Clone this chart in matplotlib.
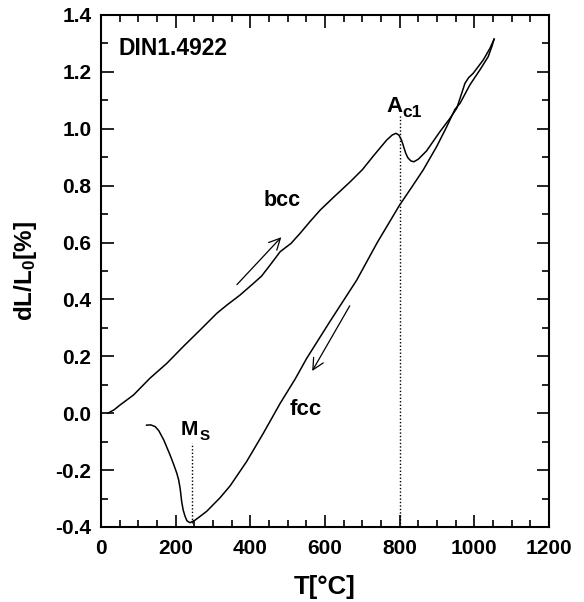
import matplotlib
matplotlib.use('Agg')
import matplotlib.pyplot as plt
from matplotlib.ticker import MultipleLocator

plt.rcParams['font.family'] = ['Liberation Sans', 'DejaVu Sans']
plt.rcParams['font.weight'] = 'bold'
plt.rcParams['mathtext.default'] = 'regular'

# heating curve (bcc -> fcc)
heat_T = [18, 35, 51, 87, 131, 176, 220, 265, 310, 337, 372, 407, 430, 453,
          480, 509, 533, 560, 587, 622, 645, 667, 700, 730, 765, 780, 790,
          798, 805, 810, 816, 822, 830, 838, 850, 872, 908, 935, 953, 965,
          975, 985, 997, 1024, 1042, 1053]
heat_dl = [0.0, 0.012, 0.029, 0.064, 0.123, 0.175, 0.234, 0.292, 0.351, 0.38,
           0.415, 0.455, 0.482, 0.521, 0.568, 0.597, 0.632, 0.674, 0.714,
           0.758, 0.786, 0.813, 0.856, 0.905, 0.96, 0.978, 0.984, 0.978, 0.96,
           0.94, 0.915, 0.898, 0.887, 0.884, 0.893, 0.922, 0.99, 1.037, 1.072,
           1.12, 1.16, 1.18, 1.195, 1.242, 1.283, 1.315]

# cooling curve (fcc -> martensite)
cool_T = [1053, 1047, 1037, 1015, 988, 962, 948, 926, 899, 863, 830, 800,
          740, 685, 613, 551, 520, 480, 435, 390, 346, 319, 283, 252, 238,
          230, 225, 220, 216, 212, 208, 203, 194, 185, 168, 155, 145, 133, 122]
cool_dl = [1.315, 1.289, 1.253, 1.207, 1.154, 1.09, 1.068, 1.007, 0.937,
           0.855, 0.79, 0.732, 0.6, 0.468, 0.322, 0.193, 0.12, 0.035, -0.07,
           -0.17, -0.255, -0.297, -0.345, -0.376, -0.385, -0.378, -0.362,
           -0.34, -0.31, -0.265, -0.235, -0.211, -0.178, -0.147, -0.094,
           -0.062, -0.047, -0.041, -0.042]

ms_T, ms_top, ms_bot = 243, -0.106, -0.385
ac1_T, ac1_top = 800, 1.048

fig = plt.figure(figsize=(5.84, 6.02), dpi=100)
ax = fig.add_axes([0.173, 0.1246, 0.767, 0.8505])

ax.plot(heat_T, heat_dl, color='black', lw=1.1)
ax.plot(cool_T, cool_dl, color='black', lw=1.1)
ax.plot([ms_T, ms_T], [ms_bot, ms_top], color='black', lw=1.0, ls=(0, (1, 1.5)))
ax.plot([ac1_T, ac1_T], [-0.4, ac1_top], color='black', lw=1.0, ls=(0, (1, 1.5)))

# direction arrows
ax.annotate('', xy=(488, 0.626), xytext=(359, 0.445),
            arrowprops=dict(arrowstyle='->', lw=0.9, color='black',
                            mutation_scale=20))
ax.annotate('', xy=(562, 0.14), xytext=(670, 0.386),
            arrowprops=dict(arrowstyle='->', lw=0.9, color='black',
                            mutation_scale=20))

ax.text(46, 1.26, 'DIN1.4922', fontsize=16.5, fontweight='bold')
ax.text(435, 0.728, 'bcc', fontsize=15.5, fontweight='bold')
ax.text(506, -0.006, 'fcc', fontsize=16, fontweight='bold')
ax.text(214, -0.077, 'M', fontsize=15, fontweight='bold')
ax.text(265, -0.094, 'S', fontsize=11, fontweight='bold')
ax.text(764, 1.06, 'A', fontsize=16, fontweight='bold')
ax.text(807, 1.042, 'c1', fontsize=12.5, fontweight='bold')

ax.set_xlim(0, 1200)
ax.set_ylim(-0.4, 1.4)
ax.xaxis.set_major_locator(MultipleLocator(200))
ax.xaxis.set_minor_locator(MultipleLocator(50))
ax.yaxis.set_major_locator(MultipleLocator(0.2))
ax.yaxis.set_minor_locator(MultipleLocator(0.1))
ax.yaxis.set_major_formatter(plt.FormatStrFormatter('%.1f'))

ax.tick_params(which='both', direction='in', top=True, right=True, width=1.2)
ax.tick_params(which='major', length=9)
ax.tick_params(which='minor', length=5)
ax.tick_params(axis='x', which='major', labelsize=15, pad=9)
ax.tick_params(axis='y', which='major', labelsize=15, pad=7)
for s in ax.spines.values():
    s.set_linewidth(1.5)

ax.set_xlabel('T[°C]', fontsize=18.5, fontweight='bold', labelpad=12)
ax.set_ylabel('dL/L$_0$[%]', fontsize=17.5, fontweight='bold', labelpad=12)

fig.savefig('out.png', dpi=100)
